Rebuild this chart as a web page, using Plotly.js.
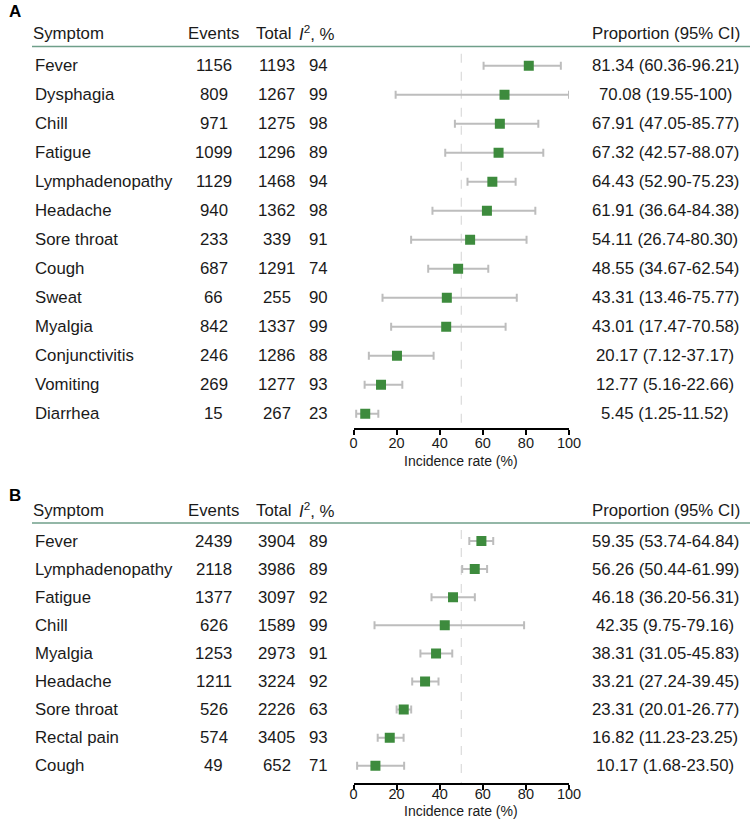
<!DOCTYPE html>
<html>
<head>
<meta charset="utf-8">
<script src="https://cdn.plot.ly/plotly-3.0.1.min.js"></script>
<style>html,body{margin:0;padding:0;background:#fff;}#chart{width:750px;height:822px;}</style>
</head>
<body>
<div id="chart"></div>
<script>
// ---- Panel A data ----
const symptomsA = ["Fever","Dysphagia","Chill","Fatigue","Lymphadenopathy","Headache","Sore throat","Cough","Sweat","Myalgia","Conjunctivitis","Vomiting","Diarrhea"];
const eventsA = [1156, 809, 971, 1099, 1129, 940, 233, 687, 66, 842, 246, 269, 15];
const totalA  = [1193, 1267, 1275, 1296, 1468, 1362, 339, 1291, 255, 1337, 1286, 1277, 267];
const i2A     = [94, 99, 98, 89, 94, 98, 91, 74, 90, 99, 88, 93, 23];
const estA    = [81.34, 70.08, 67.91, 67.32, 64.43, 61.91, 54.11, 48.55, 43.31, 43.01, 20.17, 12.77, 5.45];
const loA     = [60.36, 19.55, 47.05, 42.57, 52.90, 36.64, 26.74, 34.67, 13.46, 17.47, 7.12, 5.16, 1.25];
const hiA     = [96.21, 100, 85.77, 88.07, 75.23, 84.38, 80.30, 62.54, 75.77, 70.58, 37.17, 22.66, 11.52];

// ---- Panel B data ----
const symptomsB = ["Fever","Lymphadenopathy","Fatigue","Chill","Myalgia","Headache","Sore throat","Rectal pain","Cough"];
const eventsB = [2439, 2118, 1377, 626, 1253, 1211, 526, 574, 49];
const totalB  = [3904, 3986, 3097, 1589, 2973, 3224, 2226, 3405, 652];
const i2B     = [89, 89, 92, 99, 91, 92, 63, 93, 71];
const estB    = [59.35, 56.26, 46.18, 42.35, 38.31, 33.21, 23.31, 16.82, 10.17];
const loB     = [53.74, 50.44, 36.20, 9.75, 31.05, 27.24, 20.01, 11.23, 1.68];
const hiB     = [64.84, 61.99, 56.31, 79.16, 45.83, 39.45, 26.77, 23.25, 23.50];

const xTicks = [0, 20, 40, 60, 80, 100];
const headers = ["Symptom", "Events", "Total", "<i>I</i><sup>2</sup>, %", "Proportion (95% CI)"];
const xTitle = "Incidence rate (%)";
const refLine = 50;

const W = 750, H = 822;
const FONT = "Liberation Sans, Arial, Helvetica, sans-serif";
const TXT = "#1a1a1a";
const GREEN = "#3d8b3d";
const GREY = "#bdbdbd";
const HDR_LINE = "#6f9f8a";
const FS = 16.8;

function fmt(v){ return v === 100 ? "100" : v.toFixed(2); }
function px(x){ return x / W; }
function py(y){ return 1 - y / H; }

// geometry per panel
const panels = [
  {sym: symptomsA, ev: eventsA, tot: totalA, i2: i2A, est: estA, lo: loA, hi: hiA,
   xa: "x", ya: "y", label: "A", labelY: 12, headerY: 33, lineY: 46.5, firstRow: 65.7, step: 29.0, axisY: 427.5, titleY: 461, standoff: -4},
  {sym: symptomsB, ev: eventsB, tot: totalB, i2: i2B, est: estB, lo: loB, hi: hiB,
   xa: "x2", ya: "y2", label: "B", labelY: 495, headerY: 510, lineY: 523, firstRow: 541, step: 28.1, axisY: 783, titleY: 811, standoff: -8}
];

const traces = [];
const annotations = [];
const shapes = [];
const layout = {
  width: W, height: H,
  margin: {l: 0, r: 0, t: 0, b: 0},
  paper_bgcolor: "#fff", plot_bgcolor: "rgba(0,0,0,0)",
  showlegend: false,
  font: {family: FONT, color: TXT},
  annotations: annotations, shapes: shapes
};

const xDom = [px(353.5), px(569)];

panels.forEach((p, k) => {
  const rows = p.sym.map((_, i) => i);
  const topVal = (p.lineY - p.firstRow) / p.step;
  const botVal = (p.axisY - p.firstRow) / p.step;
  const xKey = k === 0 ? "xaxis" : "xaxis2";
  const yKey = k === 0 ? "yaxis" : "yaxis2";

  layout[xKey] = {
    domain: xDom, range: [0, 100], anchor: p.ya,
    tickvals: xTicks, ticktext: xTicks.map(String),
    showgrid: false, zeroline: false,
    showline: true, linecolor: "#000", linewidth: 2,
    ticks: "outside", ticklen: 5, tickwidth: 2, tickcolor: "#000",
    ticklabelstandoff: p.standoff,
    tickfont: {size: 14.5, color: TXT, family: FONT},
    fixedrange: true
  };
  layout[yKey] = {
    domain: [py(p.axisY), py(p.lineY)], range: [botVal, topVal], anchor: p.xa,
    showgrid: false, zeroline: false, showline: false, showticklabels: false, ticks: "",
    fixedrange: true
  };

  // axis title
  annotations.push({xref: "paper", yref: "paper", x: (xDom[0] + xDom[1]) / 2, y: py(p.titleY),
    xanchor: "center", yanchor: "middle", text: xTitle, showarrow: false,
    font: {size: 14, color: TXT, family: FONT}});

  // reference dashed line at 50
  shapes.push({type: "line", xref: p.xa, yref: p.ya, x0: refLine, x1: refLine,
    y0: topVal + 0.25, y1: botVal, line: {color: "#d3d3d3", width: 1, dash: "dash"}, layer: "below"});

  // header line
  shapes.push({type: "line", xref: "paper", yref: "paper", x0: px(32), x1: 1,
    y0: py(p.lineY), y1: py(p.lineY), line: {color: HDR_LINE, width: 1.5}});

  // CI + point estimates
  traces.push({
    type: "scatter", mode: "markers", xaxis: p.xa, yaxis: p.ya,
    x: p.est, y: rows,
    marker: {symbol: "square", size: 10, color: GREEN, line: {width: 0}},
    error_x: {type: "data", symmetric: false,
      array: p.hi.map((h, i) => h - p.est[i]),
      arrayminus: p.lo.map((l, i) => p.est[i] - l),
      color: GREY, thickness: 2, width: 4},
    hoverinfo: "skip"
  });

  // panel label
  annotations.push({xref: "paper", yref: "paper", x: px(7), y: py(p.labelY), xanchor: "left", yanchor: "middle",
    text: "<b>" + p.label + "</b>", showarrow: false, font: {size: 17, color: "#000", family: FONT}});

  // headers
  const hfont = {size: FS, color: TXT, family: FONT};
  annotations.push({xref: "paper", yref: "paper", x: px(31), y: py(p.headerY), xanchor: "left", yanchor: "middle", text: headers[0], showarrow: false, font: hfont});
  annotations.push({xref: "paper", yref: "paper", x: px(213.5), y: py(p.headerY), xanchor: "center", yanchor: "middle", text: headers[1], showarrow: false, font: hfont});
  annotations.push({xref: "paper", yref: "paper", x: px(273.5), y: py(p.headerY), xanchor: "center", yanchor: "middle", text: headers[2], showarrow: false, font: hfont});
  annotations.push({xref: "paper", yref: "paper", x: px(297), y: py(p.headerY), xanchor: "left", yanchor: "middle", text: headers[3], showarrow: false, font: hfont});
  annotations.push({xref: "paper", yref: "paper", x: px(666), y: py(p.headerY), xanchor: "center", yanchor: "middle", text: headers[4], showarrow: false, font: hfont});

  // row text
  const rfont = {size: FS, color: TXT, family: FONT};
  rows.forEach(i => {
    annotations.push({xref: "paper", yref: p.ya, x: px(33), y: i, xanchor: "left", yanchor: "middle", text: p.sym[i], showarrow: false, font: rfont});
    annotations.push({xref: "paper", yref: p.ya, x: px(213.5), y: i, xanchor: "center", yanchor: "middle", text: String(p.ev[i]), showarrow: false, font: rfont});
    annotations.push({xref: "paper", yref: p.ya, x: px(276.5), y: i, xanchor: "center", yanchor: "middle", text: String(p.tot[i]), showarrow: false, font: rfont});
    annotations.push({xref: "paper", yref: p.ya, x: px(318), y: i, xanchor: "center", yanchor: "middle", text: String(p.i2[i]), showarrow: false, font: rfont});
    annotations.push({xref: "paper", yref: p.ya, x: px(665), y: i, xanchor: "center", yanchor: "middle",
      text: fmt(p.est[i]) + " (" + fmt(p.lo[i]) + "-" + fmt(p.hi[i]) + ")", showarrow: false, font: rfont});
  });
});

Plotly.newPlot("chart", traces, layout, {displayModeBar: false, staticPlot: true});
</script>
</body>
</html>
